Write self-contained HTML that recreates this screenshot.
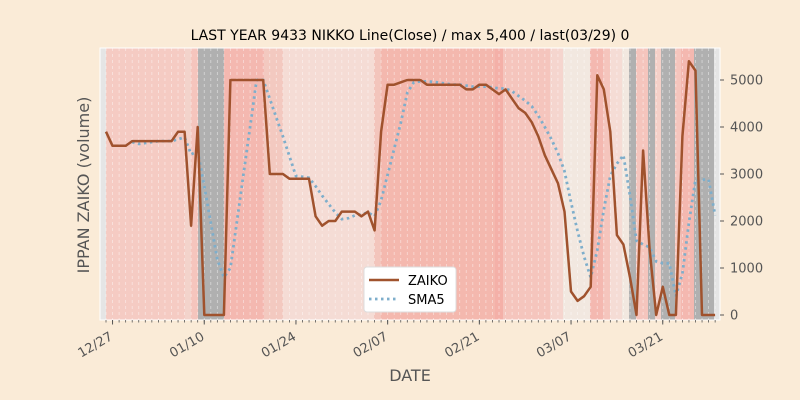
<!DOCTYPE html>
<html><head><meta charset="utf-8"><style>
body{margin:0;background:#faebd7;}
svg{display:block;font-family:"DejaVu Sans","Liberation Sans",sans-serif;}
</style></head><body>
<svg id="s" width="800" height="400" xmlns="http://www.w3.org/2000/svg">
<rect width="800" height="400" fill="#faebd7"/>
<g id="bands"></g>
<g id="grid"></g>
<g id="lines"></g>
<g id="axes"></g>
<text x="410" y="40" font-size="14" text-anchor="middle" fill="#000">LAST YEAR 9433 NIKKO Line(Close) / max 5,400 / last(03/29) 0</text>
<text x="410" y="381" font-size="16" text-anchor="middle" fill="#555">DATE</text>
<text transform="translate(89,185) rotate(-90)" font-size="16" text-anchor="middle" fill="#555">IPPAN ZAIKO (volume)</text>
<g>
<rect x="364" y="267" width="92" height="45" rx="3" fill="#fff" stroke="#ddd"/>
<line x1="369" y1="280" x2="399" y2="280" stroke="#a0522d" stroke-width="2.5"/>
<text x="408" y="285" font-size="13" fill="#000">ZAIKO</text>
<line x1="369" y1="299" x2="399" y2="299" stroke="#7eaecb" stroke-width="2.8" stroke-dasharray="2.5,3.5"/>
<text x="408" y="304" font-size="13" fill="#000">SMA5</text>
</g>
</svg>
<script>
var NS="http://www.w3.org/2000/svg";
function el(p,t,a){var e=document.createElementNS(NS,t);for(var k in a)e.setAttribute(k,a[k]);p.appendChild(e);return e;}
var X=function(i){return 106+6.55*i;}, Y=function(v){return 315-v*0.047;};
var L=100,R=720,T=48,B=320;
var bands=document.getElementById('bands');
el(bands,'rect',{x:L,y:T,width:R-L,height:B-T,fill:'#e5e5e5'});
var segs=[[106,185,'#f5cbc3'],[185,191,'#f3d3cb'],[191,198,'#f5c5bd'],[198,224,'#b0b0b0'],[224,264,'#f4b8b0'],[264,283,'#f3c9c0'],[283,374,'#f5dcd5'],[374,381,'#f3c5bc'],[381,495,'#f4b8ae'],[495,503,'#f4b0a8'],[503,550,'#f5c5bd'],[550,563,'#f5d5ce'],[563,590,'#f2e8e0'],[590,603,'#f4b8b0'],[603,610,'#f5c5bd'],[610,622,'#f5dcd5'],[622,629,'#f2e8e0'],[629,636,'#b0b0b0'],[636,648,'#f5c5bd'],[648,655,'#b0b0b0'],[655,661,'#f5d0c8'],[661,675,'#b0b0b0'],[675,681,'#f5c5bd'],[681,694,'#f4b8b0'],[694,714,'#b0b0b0']];
segs.forEach(function(s){el(bands,'rect',{x:s[0],y:T,width:s[1]-s[0],height:B-T,fill:s[2]});});
var g=document.getElementById('grid');
for(var i=0;i<94;i++){el(g,'line',{x1:X(i),y1:T,x2:X(i),y2:B,stroke:'#fff','stroke-width':0.8,'stroke-dasharray':'3,3',opacity:0.5});}
var d=[3900,3600,3600,3600,3700,3700,3700,3700,3700,3700,3700,3900,3900,1900,4000,0,0,0,0,5000,5000,5000,5000,5000,5000,3000,3000,3000,2900,2900,2900,2900,2100,1900,2000,2000,2200,2200,2200,2100,2200,1800,3900,4900,4900,4950,5000,5000,5000,4900,4900,4900,4900,4900,4900,4800,4800,4900,4900,4800,4700,4800,4600,4400,4300,4100,3800,3400,3100,2800,2200,500,300,400,600,5100,4800,3900,1700,1500,800,0,3500,1400,0,600,0,0,3800,5400,5200,0,0,0];
var lines=document.getElementById('lines');
var sp=[];for(var i=4;i<d.length;i++){var m=(d[i]+d[i-1]+d[i-2]+d[i-3]+d[i-4])/5;sp.push(X(i).toFixed(1)+','+Y(m).toFixed(1));}
el(lines,'polyline',{points:sp.join(' '),fill:'none',stroke:'#7eaecb','stroke-width':2.8,'stroke-dasharray':'2.5,3.5'});
var zp=d.map(function(v,i){return X(i).toFixed(1)+','+Y(v).toFixed(1);});
el(lines,'polyline',{points:zp.join(' '),fill:'none',stroke:'#a0522d','stroke-width':2.5,'stroke-linejoin':'round'});
var ax=document.getElementById('axes');
el(ax,'rect',{x:L,y:T,width:R-L,height:B-T,fill:'none',stroke:'#fff','stroke-width':1});
for(var i=0;i<94;i++)el(ax,'line',{x1:X(i),y1:B,x2:X(i),y2:B+2.5,stroke:'#555','stroke-width':0.8});
var labs=['12/27','01/10','01/24','02/07','02/21','03/07','03/21'];
labs.forEach(function(t,k){var x=X(1+14*k);el(ax,'line',{x1:x,y1:B,x2:x,y2:B+4.5,stroke:'#555','stroke-width':1});
var tx=el(ax,'text',{x:x+1,y:B+19,'font-size':13,fill:'#555','text-anchor':'end',transform:'rotate(-30 '+(x+1)+' '+(B+19)+')'});tx.textContent=t;});
[0,1000,2000,3000,4000,5000].forEach(function(v){var y=Y(v);el(ax,'line',{x1:R,y1:y,x2:R+4,y2:y,stroke:'#555'});
var tx=el(ax,'text',{x:R+10,y:y+4.5,'font-size':13,fill:'#555'});tx.textContent=v;});
</script>
</body></html>
